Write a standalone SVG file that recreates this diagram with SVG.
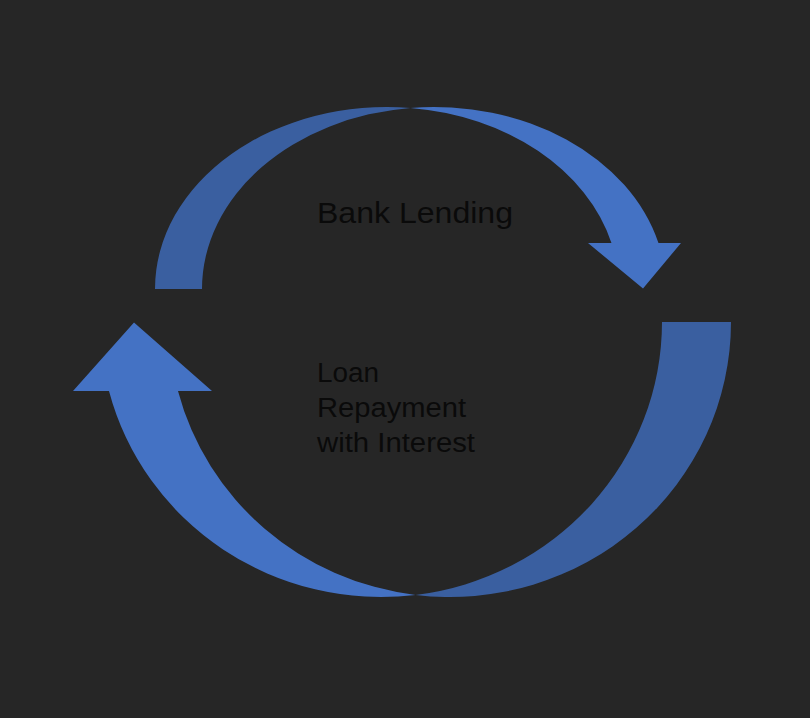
<svg xmlns="http://www.w3.org/2000/svg" width="810" height="718" viewBox="0 0 810 718">
  <style>
    .front { fill: #4472C4; }
    .back { fill: #3A5FA0; }
    .label { font-family: "Liberation Sans", Arial, sans-serif; fill: #0a0a0a; }
  </style>
  <rect x="0" y="0" width="810" height="718" fill="#262626"/>
  <g id="connectors">
    <g id="arrow-bank-lending">
      <path class="back" d="M155 289 A232 182 0 0 1 410.5 107.94 A232 182 0 0 0 202 289 Z"/>
      <path class="front" d="M410.5 107.94 A232 182 0 0 1 658.47 243 L681 243 L643 288.5 L588 243 L611.47 243 A232 182 0 0 0 410.5 107.94 Z"/>
    </g>
    <g id="arrow-loan-repayment">
      <path class="back" d="M731 322 A281 275 0 0 1 415.5 594.92 A281 275 0 0 0 662 322 Z"/>
      <path class="front" d="M415.5 594.92 A281 275 0 0 1 108.99 391 L73 391 L134 322.5 L212 391 L177.99 391 A281 275 0 0 0 415.5 594.92 Z"/>
    </g>
  </g>
  <g id="label-bank-lending">
    <text class="label" x="317" y="222.5" font-size="29" textLength="196" lengthAdjust="spacingAndGlyphs">Bank Lending</text>
  </g>
  <g id="label-loan-repayment">
    <text class="label" font-size="27">
      <tspan x="317" y="381.7" textLength="62" lengthAdjust="spacingAndGlyphs">Loan</tspan>
      <tspan x="317" y="416.8" textLength="149" lengthAdjust="spacingAndGlyphs">Repayment</tspan>
      <tspan x="317" y="451.7" textLength="158" lengthAdjust="spacingAndGlyphs">with Interest</tspan>
    </text>
  </g>
</svg>
